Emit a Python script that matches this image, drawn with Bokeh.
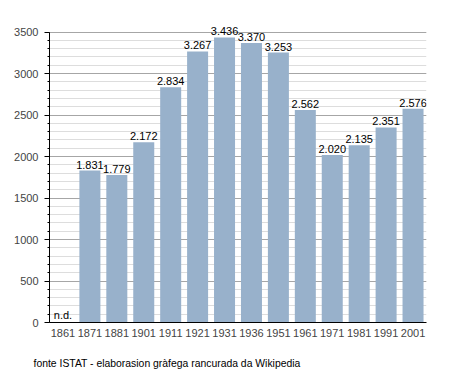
from bokeh.plotting import figure
from bokeh.models import ColumnDataSource, FactorRange, Range1d, FixedTicker, LabelSet, Title
from bokeh.embed import file_html
from bokeh.resources import INLINE
from bokeh.core.properties import value

years = ["1861", "1871", "1881", "1901", "1911", "1921", "1931", "1936", "1951", "1961", "1971", "1981", "1991", "2001"]
population = [None, 1831, 1779, 2172, 2834, 3267, 3436, 3370, 3253, 2562, 2020, 2135, 2351, 2576]
y_major = [0, 500, 1000, 1500, 2000, 2500, 3000, 3500]
y_minor = list(range(0, 3600, 100))
source_note = "fonte ISTAT - elaborasion gràfega rancurada da Wikipedia"

bx = [y for y, v in zip(years, population) if v is not None]
bv = [v for v in population if v is not None]
bl = ["{:,}".format(v).replace(",", ".") for v in bv]
nd_x = [y for y, v in zip(years, population) if v is None]

src = ColumnDataSource(dict(x=bx, top=bv, lab=bl))
nd_src = ColumnDataSource(dict(x=nd_x, y=[0] * len(nd_x), lab=["n.d."] * len(nd_x)))

FONT = "Liberation Sans"

p = figure(x_range=FactorRange(*years, range_padding=0), y_range=Range1d(0, 3700),
           width=448, height=372, output_backend="svg", toolbar_location=None,
           min_border_left=49, min_border_top=15, min_border_right=22, min_border_bottom=49)
p.outline_line_color = None
p.background_fill_color = "white"

p.vbar(x="x", top="top", width=0.78, source=src, fill_color="#98b1cb", line_color=None)
p.add_layout(LabelSet(x="x", y="top", text="lab", source=src, text_align="center", text_baseline="bottom",
                      y_offset=2, text_font=value(FONT), text_font_size=value("11px"), text_color="black"))
p.add_layout(LabelSet(x="x", y="y", text="lab", source=nd_src, text_align="center", text_baseline="bottom",
                      y_offset=2, text_font=value(FONT), text_font_size=value("11px"), text_color="black"))

p.yaxis.ticker = FixedTicker(ticks=y_major, minor_ticks=y_minor)
p.yaxis.bounds = (0, 3500)
p.yaxis.major_tick_in = 0
p.yaxis.major_tick_out = 5
p.yaxis.minor_tick_in = 0
p.yaxis.minor_tick_out = 2
p.yaxis.axis_line_color = "black"
p.yaxis.major_tick_line_color = "black"
p.yaxis.minor_tick_line_color = "black"
p.yaxis.major_label_text_font = FONT
p.yaxis.major_label_text_font_size = "11px"
p.yaxis.major_label_standoff = 6

p.xaxis.major_tick_line_color = None
p.xaxis.minor_tick_line_color = None
p.xaxis.axis_line_color = "black"
p.xaxis.major_label_text_font = FONT
p.xaxis.major_label_text_font_size = "11px"
p.xaxis.major_label_standoff = 0

p.xgrid.grid_line_color = None
p.ygrid.grid_line_color = "#a6a6a6"
p.ygrid.minor_grid_line_color = "#dddddd"

p.add_layout(Title(text=" ", text_font_size="9px", standoff=0), "below")
p.add_layout(Title(text=source_note, align="left", offset=-16, text_font=FONT,
                   text_font_size="10.4px", text_font_style="normal", text_color="black",
                   standoff=8), "below")

open("out.html", "w").write(file_html(p, INLINE))
